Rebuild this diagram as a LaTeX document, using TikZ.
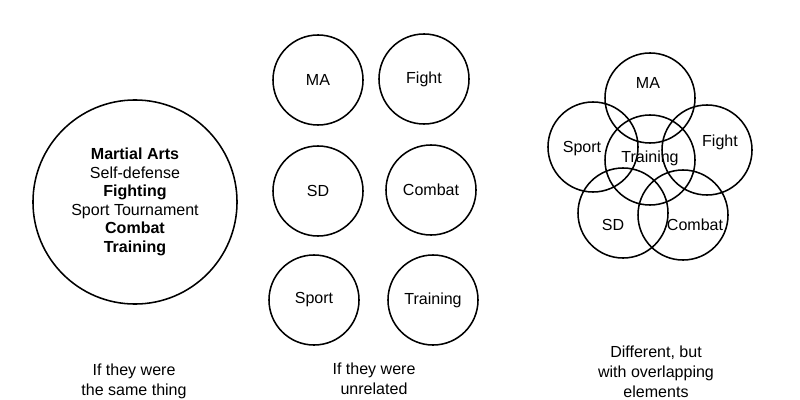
\documentclass[tikz,border=0pt]{standalone}
\usepackage{fontspec}
\setmainfont{Liberation Sans}
\begin{document}
\begin{tikzpicture}[x=0.025cm,y=-0.025cm,line width=1.1pt,
  font=\fontsize{11.4}{13.2}\selectfont,
  ball/.style={draw,circle,inner sep=0pt,minimum size=2.25cm},
  big/.style={draw,circle,inner sep=0pt,minimum size=5.1cm,align=center},
  caption/.style={align=center,inner sep=0pt,font=\fontsize{11.4}{14.2}\selectfont}]
\useasboundingbox (0,0) rectangle (800,400);
% same thing
\node[big] (same) at (135,202) {\textbf{Martial Arts}\\Self-defense\\\textbf{Fighting}\\Sport Tournament\\\textbf{Combat}\\\textbf{Training}};
% unrelated
\node[ball] (ma) at (318,80) {MA};
\node[ball] (fight) at (424,79) {Fight};
\node[ball] (sd) at (318,191) {SD};
\node[ball] (combat) at (431,190) {Combat};
\node[ball] (sport) at (314,300) {Sport};
\node[ball] (train) at (433,300) {Training};
% overlapping
\draw (650,98) circle (1.125cm) (593,147) circle (1.125cm) (707,150) circle (1.125cm)
      (650,160) circle (1.125cm) (623,213) circle (1.125cm) (683,215) circle (1.125cm);
\node (vma) at (648,83) {MA};
\node (vsport) at (582,149) {Sport};
\node (vfight) at (720,142) {Fight};
\node (vtrain) at (650,158) {Training};
\node (vsd) at (613,225) {SD};
\node (vcombat) at (695,225) {Combat};
% captions
\node[caption] (csame) at (134,381) {If they were\\the same thing};
\node[caption] (cunrel) at (374,379) {If they were\\unrelated};
\node[caption] (cover) at (656,372) {Different, but\\with overlapping\\elements};
\end{tikzpicture}
\end{document}
